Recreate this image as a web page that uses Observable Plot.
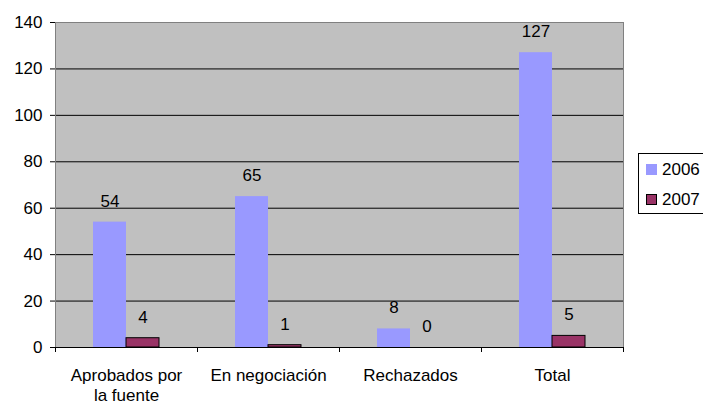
<!DOCTYPE html>
<html><head><meta charset="utf-8">
<script src="https://cdn.jsdelivr.net/npm/d3@7"></script>
<script src="https://cdn.jsdelivr.net/npm/@observablehq/plot@0.6"></script>
<style>
body{margin:0;background:#fff;font-family:"Liberation Sans",Arial,sans-serif;}
#wrap{position:relative;width:703px;height:404px;overflow:hidden;}
#legend{position:absolute;left:638px;top:153px;width:70px;height:61px;border:1px solid #000;box-sizing:border-box;background:#fff;font-size:17px;}
.item{position:absolute;left:7px;height:20px;line-height:20px;display:flex;align-items:center;}
.sw{width:11px;height:11px;margin-right:5px;box-sizing:border-box;}
</style></head><body>
<div id="wrap"><div id="legend"></div></div>
<script>
const categories = ["Aprobados por la fuente", "En negociación", "Rechazados", "Total"];
const categoryLabels = ["Aprobados por\nla fuente", "En negociación", "Rechazados", "Total"];
const series = ["2006", "2007"];
const values2006 = [54, 65, 8, 127];
const values2007 = [4, 1, 0, 5];
const yTicks = [0, 20, 40, 60, 80, 100, 120, 140];
const colors = {"2006": "#9999FF", "2007": "#993366"};

const d06 = categories.map((c, i) => ({cat: c, v: values2006[i]}));
const d07 = categories.map((c, i) => ({cat: c, v: values2007[i]}));
const labelOf = Object.fromEntries(categories.map((c, i) => [c, categoryLabels[i]]));

const W = 703, H = 404, mL = 55, mR = 80;
const band = (W - mL - mR) / categories.length;
const barW = 33;
const outer = (band - 2 * barW) / 2;
const FS = 17;

const chart = Plot.plot({
  width: W, height: H,
  marginLeft: mL, marginRight: mR, marginTop: 22, marginBottom: 57,
  style: {fontFamily: "'Liberation Sans', Arial, sans-serif", fontSize: FS + "px", color: "#000", background: "transparent"},
  x: {domain: categories, padding: 0, axis: null},
  y: {domain: [0, 140], axis: null},
  marks: [
    Plot.frame({fill: "#C0C0C0", stroke: null}),
    Plot.ruleY(yTicks.filter(t => t > 0 && t < 140), {stroke: "#000", strokeWidth: 1}),
    Plot.frame({stroke: "#808080"}),
    Plot.barY(d06, {x: "cat", y: "v", fill: colors["2006"], insetLeft: outer, insetRight: outer + barW}),
    Plot.barY(d07, {x: "cat", y: "v", fill: colors["2007"], stroke: "#000", strokeWidth: 1, insetLeft: outer + barW, insetRight: outer}),
    Plot.ruleY([0], {stroke: "#000"}),
    Plot.axisY({ticks: yTicks, tickSize: 5, tickPadding: 8, fontSize: FS, label: null, line: true, stroke: "#000"}),
    Plot.axisX({tickSize: 5, dx: -band / 2, tickFormat: () => "", label: null}),
    Plot.axisX({ticks: [categories[categories.length - 1]], tickSize: 5, dx: band / 2, tickFormat: () => "", label: null}),
    Plot.axisX({tickSize: 0, tickPadding: 20, tickFormat: c => labelOf[c], lineHeight: 1.15, fontSize: FS, label: null}),
    Plot.text(d06, {x: "cat", y: "v", text: d => String(d.v), dx: -barW / 2, dy: -21, fontSize: FS, fill: "#000"}),
    Plot.text(d07, {x: "cat", y: "v", text: d => String(d.v), dx: barW / 2, dy: -21, fontSize: FS, fill: "#000"})
  ]
});
document.getElementById("wrap").prepend(chart);

const legend = document.getElementById("legend");
series.forEach((s, i) => {
  const it = document.createElement("div");
  it.className = "item";
  it.style.top = (i === 0 ? 5.5 : 35.5) + "px";
  const sw = document.createElement("div");
  sw.className = "sw";
  sw.style.background = colors[s];
  if (s === "2007") sw.style.border = "1px solid #000";
  const t = document.createElement("span");
  t.textContent = s;
  it.append(sw, t);
  legend.append(it);
});
</script>
</body></html>
